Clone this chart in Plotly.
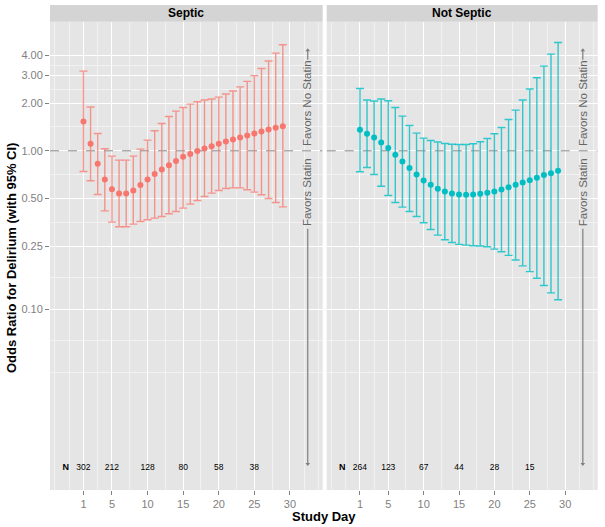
import plotly.graph_objects as go

# ---------------- data ----------------
days = list(range(1, 30))

septic_or = [1.53, 1.107, 0.828, 0.66, 0.573, 0.538, 0.538, 0.562, 0.608, 0.66,
             0.713, 0.762, 0.812, 0.861, 0.917, 0.953, 0.996, 1.034, 1.07, 1.107,
             1.145, 1.179, 1.213, 1.249, 1.285, 1.324, 1.362, 1.397, 1.43]
septic_hi = [3.18, 1.89, 1.285, 1.03, 0.926, 0.873, 0.873, 0.926, 1.025, 1.168,
             1.337, 1.486, 1.645, 1.78, 1.875, 1.97, 2.04, 2.09, 2.12, 2.18,
             2.28, 2.38, 2.53, 2.74, 2.98, 3.30, 3.68, 4.13, 4.66]
septic_lo = [0.74, 0.647, 0.53, 0.418, 0.355, 0.332, 0.332, 0.345, 0.358, 0.367,
             0.376, 0.385, 0.401, 0.414, 0.435, 0.461, 0.486, 0.515, 0.541, 0.562,
             0.578, 0.584, 0.584, 0.568, 0.549, 0.528, 0.50, 0.472, 0.443]

notseptic_or = [1.356, 1.28, 1.213, 1.128, 1.04, 0.944, 0.856, 0.778, 0.709, 0.65,
                0.61, 0.576, 0.554, 0.538, 0.53, 0.528, 0.53, 0.536, 0.543, 0.554,
                0.57, 0.59, 0.61, 0.631, 0.653, 0.676, 0.703, 0.723, 0.748]
notseptic_hi = [2.47, 2.09, 2.06, 2.12, 2.07, 1.875, 1.655, 1.444, 1.292, 1.202,
                1.161, 1.135, 1.112, 1.10, 1.096, 1.096, 1.107, 1.14, 1.195, 1.28,
                1.403, 1.575, 1.806, 2.09, 2.45, 2.89, 3.42, 4.07, 4.82]
notseptic_lo = [0.737, 0.785, 0.709, 0.598, 0.523, 0.472, 0.441, 0.414, 0.385, 0.352,
                0.319, 0.294, 0.275, 0.264, 0.257, 0.254, 0.252, 0.251, 0.248, 0.24,
                0.231, 0.219, 0.205, 0.188, 0.173, 0.157, 0.1415, 0.127, 0.115]

n_days = [1, 5, 10, 15, 20, 25]
septic_n = [302, 212, 128, 80, 58, 38]
notseptic_n = [264, 123, 67, 44, 28, 15]

panel_names = ["Septic", "Not Septic"]
x_ticks = [1, 5, 10, 15, 20, 25, 30]
y_ticks = [0.10, 0.25, 0.50, 1.00, 2.00, 3.00, 4.00]
y_ticktext = ["0.10", "0.25", "0.50", "1.00", "2.00", "3.00", "4.00"]
label_up = "Favors No Statin"
label_down = "Favors Statin"

# ---------------- layout helpers ----------------
W, H = 605, 527
def px_x(p): return p / W
def px_y(p): return 1 - p / H

dom_left = [px_x(50), px_x(322.7)]
dom_right = [px_x(326.7), px_x(597.7)]
dom_y = [px_y(490), px_y(21.7)]
xrange_ = [-3.7, 34.6]
yrange_ = [-2.139, 0.814]

x_minor = [-3, -1, 3, 7.5, 12.5, 17.5, 22.5, 27.5, 32, 34]
y_minor = [10 ** v for v in [-1.398, -1.199, -0.801, -0.451, -0.1505, 0.1505, 0.389, 0.540]]

colors = ["#F8766D", "#00BFC4"]
bar_colors = ["rgba(248,118,109,0.75)", "rgba(0,191,196,0.8)"]
FONT = "Liberation Sans, Arial, Helvetica, sans-serif"
GRAY = "#7F7F7F"

fig = go.Figure()

series = [(septic_or, septic_hi, septic_lo, septic_n),
          (notseptic_or, notseptic_hi, notseptic_lo, notseptic_n)]

for i, (orv, hi, lo, nn) in enumerate(series):
    xa = "x" if i == 0 else "x2"
    ya = "y" if i == 0 else "y2"
    fig.add_trace(go.Scatter(x=xrange_, y=[1, 1], mode="lines", xaxis=xa, yaxis=ya,
                             line=dict(color="#8C8C8C", width=1, dash="dash"),
                             hoverinfo="skip", showlegend=False))
    fig.add_trace(go.Scatter(
        x=days, y=orv, mode="markers", xaxis=xa, yaxis=ya,
        marker=dict(color=colors[i], size=6),
        error_y=dict(type="data", symmetric=False,
                     array=[h - o for h, o in zip(hi, orv)],
                     arrayminus=[o - l for o, l in zip(orv, lo)],
                     color=bar_colors[i], thickness=1.4, width=4),
        showlegend=False))
    fig.add_trace(go.Scatter(x=[-1.5], y=[0.01], mode="text", text=["<b>N</b>"],
                             xaxis=xa, yaxis=ya, textfont=dict(size=9, color="black", family=FONT),
                             showlegend=False, hoverinfo="skip"))
    fig.add_trace(go.Scatter(x=n_days, y=[0.01] * len(n_days), mode="text",
                             text=[str(v) for v in nn], xaxis=xa, yaxis=ya,
                             textfont=dict(size=8.5, color="black", family=FONT),
                             showlegend=False, hoverinfo="skip"))
    fig.add_trace(go.Scatter(x=[32.5, 32.5], y=[0.322, 0.0106], mode="lines", xaxis=xa, yaxis=ya,
                             line=dict(color=GRAY, width=1.2), showlegend=False, hoverinfo="skip"))
    fig.add_trace(go.Scatter(x=[32.5], y=[0.0106], mode="markers", xaxis=xa, yaxis=ya,
                             marker=dict(symbol="triangle-down", size=4, color=GRAY),
                             showlegend=False, hoverinfo="skip"))
    fig.add_trace(go.Scatter(x=[32.5, 32.5], y=[3.75, 4.3], mode="lines", xaxis=xa, yaxis=ya,
                             line=dict(color=GRAY, width=1.2), showlegend=False, hoverinfo="skip"))
    fig.add_trace(go.Scatter(x=[32.5], y=[4.3], mode="markers", xaxis=xa, yaxis=ya,
                             marker=dict(symbol="triangle-up", size=4, color=GRAY),
                             showlegend=False, hoverinfo="skip"))
    fig.add_annotation(x=32.5, y=0.2997, xref=xa, yref=ya, text=label_up, textangle=-90,
                       xanchor="center", yanchor="middle",
                       showarrow=False, font=dict(size=11.5, color="#666666", family=FONT))
    fig.add_annotation(x=32.5, y=-0.2618, xref=xa, yref=ya, text=label_down, textangle=-90,
                       xanchor="center", yanchor="middle",
                       showarrow=False, font=dict(size=11.5, color="#666666", family=FONT))

axis_common = dict(range=xrange_, tickmode="array", tickvals=x_ticks,
                   ticks="outside", ticklen=4, tickcolor=GRAY, tickwidth=1,
                   tickfont=dict(size=11, color=GRAY, family=FONT),
                   showgrid=True, gridcolor="white", gridwidth=1.3, zeroline=False,
                   showline=False, automargin=False,
                   minor=dict(tickmode="array", tickvals=x_minor, showgrid=True,
                              gridcolor="#F2F2F2", gridwidth=0.8, ticklen=0))
yaxis_common = dict(type="log", range=yrange_, tickmode="array", tickvals=y_ticks,
                    ticktext=y_ticktext, showgrid=True, gridcolor="white", gridwidth=1.3,
                    zeroline=False, showline=False, domain=dom_y, automargin=False,
                    minor=dict(tickmode="array", tickvals=y_minor, showgrid=True,
                               gridcolor="#F2F2F2", gridwidth=0.8, ticklen=0))

fig.update_layout(
    width=W, height=H, autosize=False,
    margin=dict(l=0, r=0, t=0, b=0, pad=0),
    paper_bgcolor="white", plot_bgcolor="#E5E5E5",
    font=dict(family=FONT),
    xaxis=dict(domain=dom_left, anchor="y", **axis_common),
    xaxis2=dict(domain=dom_right, anchor="y2", **axis_common),
    yaxis=dict(anchor="x", ticks="outside", ticklen=4, tickcolor=GRAY,
               tickfont=dict(size=11, color=GRAY, family=FONT), **yaxis_common),
    yaxis2=dict(anchor="x2", matches="y", showticklabels=False, ticks="", **yaxis_common),
)

for dom, name in zip([dom_left, dom_right], panel_names):
    fig.add_shape(type="rect", xref="paper", yref="paper", x0=dom[0], x1=dom[1],
                  y0=px_y(21.7), y1=px_y(5), fillcolor="#D4D4D4", line=dict(width=0),
                  layer="above")
    fig.add_annotation(x=(dom[0] + dom[1]) / 2, y=px_y(13.4), xref="paper", yref="paper",
                       xanchor="center", yanchor="middle",
                       text="<b>%s</b>" % name, showarrow=False,
                       font=dict(size=12, color="black", family=FONT))

fig.add_annotation(x=px_x(324), y=px_y(516), xref="paper", yref="paper",
                   xanchor="center", yanchor="middle",
                   text="<b>Study Day</b>", showarrow=False,
                   font=dict(size=13, color="black", family=FONT))
fig.add_annotation(x=px_x(12), y=px_y(258), xref="paper", yref="paper",
                   xanchor="center", yanchor="middle",
                   text="<b>Odds Ratio for Delirium (with 95% CI)</b>", textangle=-90,
                   showarrow=False, font=dict(size=13, color="black", family=FONT))

fig.write_html("out.html", config={"displayModeBar": False},
               post_script="document.body.style.margin='0';document.body.style.padding='0';")
